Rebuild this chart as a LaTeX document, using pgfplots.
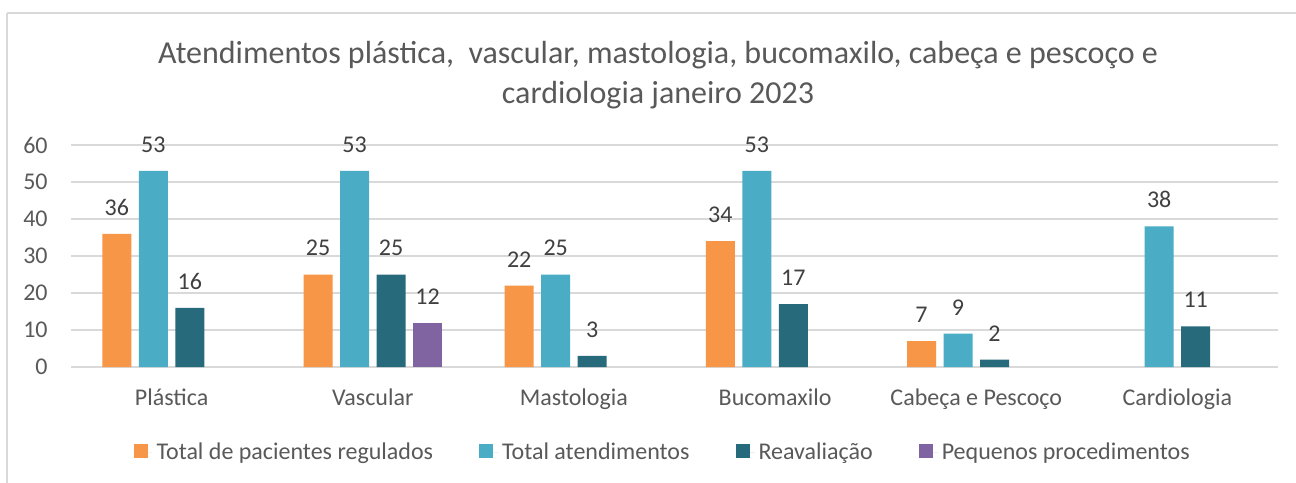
\documentclass[border=0pt]{standalone}
\usepackage{pgfplots}
\pgfplotsset{compat=1.18}
\usepackage{fontspec}
\setmainfont{Carlito}
\definecolor{cOr}{HTML}{F79646}
\definecolor{cCy}{HTML}{4BACC6}
\definecolor{cTe}{HTML}{276A7C}
\definecolor{cPu}{HTML}{8064A2}
\definecolor{txt}{HTML}{595959}
\definecolor{txtd}{HTML}{404040}
\definecolor{grd}{HTML}{D9D9D9}
\begin{document}
\begin{tikzpicture}
\useasboundingbox (0,0) rectangle (648pt,241pt);
\fill[white] (0,0) rectangle (648pt,241pt);
\draw[grd, line width=0.6pt] (3.5pt,234.5pt) -- (700pt,234.5pt) (3.5pt,234.5pt) -- (3.5pt,-20pt);
\node[anchor=base, font=\fontsize{16pt}{19pt}\selectfont, text=txt] at (329pt,209pt) {Atendimentos plástica,\ \ vascular, mastologia, bucomaxilo, cabeça e pescoço e};
\node[anchor=base, font=\fontsize{16pt}{19pt}\selectfont, text=txt] at (329pt,189pt) {cardiologia janeiro 2023};
\begin{axis}[
 at={(35.5pt,57.5pt)}, anchor=south west,
 scale only axis, width=603.5pt, height=111pt,
 xmin=-0.5, xmax=5.5, ymin=0, ymax=60,
 ytick={0,10,...,60}, xtick={0,...,5},
 xticklabels={Plástica,Vascular,Mastologia,Bucomaxilo,Cabeça e Pescoço,Cardiologia},
 ymajorgrids, grid style={grd, line width=0.6pt},
 axis line style={draw=none}, major tick length=0pt, tick style={draw=none},
 ticklabel style={font=\fontsize{12pt}{14pt}\selectfont, text=txt, inner sep=0pt},
 yticklabel style={anchor=east, xshift=-11.5pt},
 xticklabel style={anchor=base, yshift=-19pt},
 /pgf/number format/assume math mode=true,
 ybar, bar width=14.5pt,
 nodes near coords,
 every node near coord/.append style={font=\fontsize{12pt}{14pt}\selectfont, text=txtd, anchor=south, inner sep=0pt, yshift=9pt},
 legend columns=4,
 legend style={draw=none, at={(axis description cs:0.491,-0.387)}, anchor=center, font=\fontsize{12pt}{14pt}\selectfont, text=txt, /tikz/every even column/.append style={column sep=21pt}},
 legend image code/.code={\path (0pt,0pt) -- (9.5pt,0pt); \path[#1,draw=none] (0pt,-2.5pt) rectangle (7pt,4.5pt);},
]
\addplot[fill=cOr, draw=none, bar shift=-27.375pt] coordinates {(0,36) (1,25) (2,22) (3,34) (4,7)};
\addlegendentry{Total de pacientes regulados}
\addplot[fill=cCy, draw=none, bar shift=-9.125pt] coordinates {(0,53) (1,53) (2,25) (3,53) (4,9) (5,38)};
\addlegendentry{Total atendimentos}
\addplot[fill=cTe, draw=none, bar shift=9.125pt] coordinates {(0,16) (1,25) (2,3) (3,17) (4,2) (5,11)};
\addlegendentry{Reavaliação}
\addplot[fill=cPu, draw=none, bar shift=27.375pt] coordinates {(1,12)};
\addlegendentry{Pequenos procedimentos}
\end{axis}
\end{tikzpicture}
\end{document}
